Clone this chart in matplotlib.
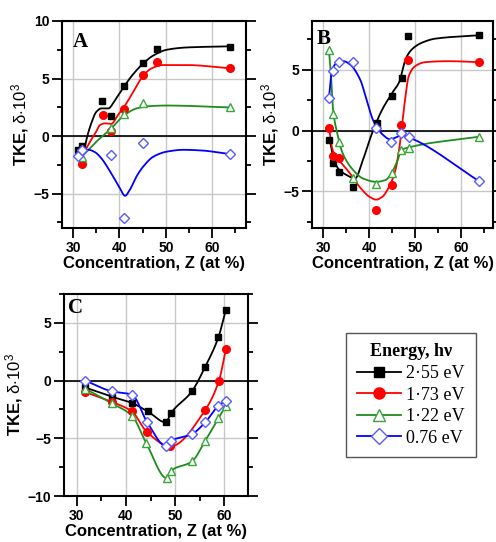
import numpy as np
import matplotlib
matplotlib.use("Agg")
import matplotlib.pyplot as plt
from matplotlib.lines import Line2D
from matplotlib.ticker import MultipleLocator

plt.rcParams["font.family"] = ["Liberation Sans", "DejaVu Sans"]
plt.rcParams["mathtext.fontset"] = "custom"
plt.rcParams["mathtext.rm"] = "Liberation Sans"
plt.rcParams["mathtext.it"] = "Liberation Sans:italic"

# ---- panel A: measured points ----
a_black_x = [31.0, 32.0, 36.3, 38.1, 41.0, 45.1, 48.0, 63.8]
a_black_y = [-1.2, -0.84, 3.04, 1.74, 4.35, 6.32, 7.57, 7.77]
a_red_x = [32.0, 36.4, 38.1, 41.0, 45.1, 48.0, 63.8]
a_red_y = [-2.46, 1.8, 0.43, 2.32, 5.3, 6.4, 5.88]
a_green_x = [32.0, 38.1, 41.0, 45.1, 63.8]
a_green_y = [-1.8, 0.72, 1.88, 2.9, 2.5]
a_blue_x = [31.1, 32.0, 38.1, 41.0, 45.1, 63.8]
a_blue_y = [-1.74, -1.2, -1.65, -7.16, -0.64, -1.57]

# panel A: fitted curves
a_fit_black_x = [32.2, 33.0, 34.0, 35.0, 36.1, 37.6, 39.0, 40.8, 43.0, 45.1, 47.3, 50.2, 54.5, 64.0]
a_fit_black_y = [-1.5, -0.1, 1.2, 2.1, 2.4, 2.4, 3.1, 4.2, 5.4, 6.3, 7.0, 7.5, 7.7, 7.8]
a_fit_red_x = [32.3, 33.5, 35.0, 35.8, 36.9, 38.2, 39.7, 41.1, 43.0, 44.7, 46.9, 49.4, 54.5, 64.0]
a_fit_red_y = [-1.5, -0.6, 0.4, 0.96, 1.1, 1.05, 1.83, 2.6, 3.85, 5.0, 5.88, 6.17, 6.17, 5.88]
a_fit_green_x = [32.1, 35.0, 38.2, 41.1, 43.7, 46.5, 50.2, 64.0]
a_fit_green_y = [-1.7, -0.5, 0.65, 1.83, 2.4, 2.6, 2.65, 2.48]
a_fit_blue_x = [31.4, 33.3, 34.7, 35.8, 38.6, 40.1, 41.2, 42.2, 43.7, 45.1, 47.3, 50.2, 53.8, 57.4, 63.8]
a_fit_blue_y = [-1.33, -1.2, -1.4, -1.8, -3.5, -4.55, -5.2, -4.7, -3.5, -2.67, -1.8, -1.36, -1.2, -1.25, -1.57]

# ---- panel B: measured points ----
b_black_x = [31.2, 32.0, 33.3, 36.4, 41.6, 45.0, 47.1, 48.4, 64.0]
b_black_y = [-0.77, -2.7, -3.39, -4.63, 0.66, 2.87, 4.33, 7.77, 7.83]
b_red_x = [31.2, 32.1, 33.5, 41.5, 45.0, 46.9, 48.4, 64.0]
b_red_y = [0.2, -2.09, -2.28, -6.5, -4.49, 0.47, 5.79, 5.62]
b_green_x = [31.2, 32.1, 33.5, 36.4, 41.5, 45.0, 47.0, 48.6, 64.0]
b_green_y = [6.61, 1.35, -0.91, -3.93, -4.35, -3.47, -1.6, -1.46, -0.5]
b_blue_x = [31.2, 32.0, 33.5, 36.4, 41.4, 44.8, 46.9, 48.6, 64.0]
b_blue_y = [2.68, 4.88, 5.62, 5.64, 0.25, -0.9, -0.22, -0.5, -4.16]

# panel B: fitted curves
b_fit_black_x = [31.4, 32.1, 33.2, 35.1, 36.9, 38.6, 40.6, 42.8, 45.0, 46.6, 47.2, 47.9, 49.3, 51.5, 54.4, 64.0]
b_fit_black_y = [-0.77, -2.15, -3.11, -3.66, -3.93, -2.42, -0.22, 1.71, 3.09, 4.05, 4.88, 5.84, 6.67, 7.22, 7.55, 7.83]
b_fit_red_x = [31.2, 31.9, 32.6, 34.0, 35.8, 37.9, 40.1, 41.5, 42.8, 44.3, 45.7, 46.6, 47.2, 47.9, 48.6, 50.0, 52.2, 57.2, 64.0]
b_fit_red_y = [0.2, -1.46, -2.1, -2.7, -3.52, -4.63, -5.45, -5.67, -5.45, -4.63, -3.25, -1.32, 0.61, 2.81, 4.46, 5.29, 5.62, 5.7, 5.62]
b_fit_green_x = [31.2, 31.6, 32.1, 33.0, 34.2, 36.5, 38.6, 41.5, 43.6, 45.0, 46.2, 47.0, 48.4, 64.0]
b_fit_green_y = [6.61, 4.74, 1.7, -0.22, -1.87, -3.25, -3.93, -4.21, -4.05, -3.39, -2.42, -1.62, -1.4, -0.5]
b_fit_blue_x = [31.2, 31.9, 33.0, 34.4, 35.8, 38.0, 39.4, 40.8, 41.6, 43.0, 44.5, 45.9, 47.0, 48.6, 64.0]
b_fit_blue_y = [2.68, 5.02, 5.57, 5.7, 5.43, 4.2, 2.54, 0.88, 0.33, -0.36, -0.71, -0.55, -0.36, -0.55, -4.16]

# ---- panel C: measured points (curves go through them) ----
c_black_x = [31.7, 37.1, 41.2, 44.4, 48.1, 49.1, 53.4, 56.1, 58.8, 60.3]
c_black_y = [-0.6, -1.39, -1.94, -2.67, -3.62, -2.84, -0.93, 1.2, 3.77, 6.15]
c_red_x = [31.7, 37.1, 41.2, 44.2, 49.0, 56.1, 58.9, 60.3]
c_red_y = [-1.0, -1.85, -2.67, -4.43, -5.7, -2.55, 0.0, 2.7]
c_green_x = [31.7, 37.1, 41.2, 44.1, 48.3, 49.1, 53.4, 56.1, 58.8, 60.3]
c_green_y = [-0.7, -1.97, -3.04, -5.4, -8.46, -7.83, -7.01, -5.22, -3.27, -2.17]
c_blue_x = [31.7, 37.1, 41.2, 44.3, 48.1, 49.1, 53.4, 56.1, 58.8, 60.3]
c_blue_y = [0.0, -0.93, -1.22, -3.6, -5.65, -5.22, -4.64, -3.62, -2.17, -1.74]

energy_labels = ["2\u00b755 eV", "1\u00b773 eV", "1\u00b722 eV", "0.76 eV"]

line_cols = ["black", "#ff0000", "#1e8c1e", "#0000ff"]
mk_edge = ["black", "#ff0000", "#3aa63a", "#5a5aff"]
mk_face = ["black", "#ff0000", "white", "white"]
markers = ["s", "o", "^", "D"]
msizes = [4.5, 5.5, 6.3, 5.3]


def pchip(x, y, n=300):
    # monotone cubic hermite, just for drawing a smooth line
    x = np.asarray(x, float)
    y = np.asarray(y, float)
    h = np.diff(x)
    d = np.diff(y) / h
    m = np.zeros_like(x)
    m[0], m[-1] = d[0], d[-1]
    for k in range(1, len(x) - 1):
        if d[k - 1] * d[k] > 0:
            w1 = 2 * h[k] + h[k - 1]
            w2 = h[k] + 2 * h[k - 1]
            m[k] = (w1 + w2) / (w1 / d[k - 1] + w2 / d[k])
    xs = np.linspace(x[0], x[-1], n)
    idx = np.clip(np.searchsorted(x, xs) - 1, 0, len(x) - 2)
    t = (xs - x[idx]) / h[idx]
    h00 = 2 * t**3 - 3 * t**2 + 1
    h10 = t**3 - 2 * t**2 + t
    h01 = -2 * t**3 + 3 * t**2
    h11 = t**3 - t**2
    ys = h00 * y[idx] + h10 * h[idx] * m[idx] + h01 * y[idx + 1] + h11 * h[idx] * m[idx + 1]
    return xs, ys


def style_axes(ax, xlim, ylim, letter, lx, ly):
    ax.set_xlim(*xlim)
    ax.set_ylim(*ylim)
    ax.xaxis.set_major_locator(MultipleLocator(10))
    ax.xaxis.set_minor_locator(MultipleLocator(5))
    ax.yaxis.set_major_locator(MultipleLocator(5))
    ax.yaxis.set_minor_locator(MultipleLocator(2.5))
    ax.grid(True, which="major", color="#c8c8c8", lw=1.0, zorder=0)
    ax.set_axisbelow(True)
    ax.axhline(0, color="black", lw=1.2, zorder=1)
    ax.tick_params(which="both", direction="out", width=1.3, top=False)
    ax.tick_params(which="major", length=7, pad=2, labelsize=10)
    ax.tick_params(which="minor", length=3.5)
    ax.tick_params(axis="y", which="both", right=True)
    for lab in ax.get_xticklabels() + ax.get_yticklabels():
        lab.set_fontweight("bold")
    for s in ax.spines.values():
        s.set_linewidth(1.5)
    ax.set_xlabel("Concentration, Z (at %)", fontsize=12, fontweight="bold", labelpad=1)
    ax.set_ylabel(r"TKE, $\mathrm{\delta{\cdot}10^{3}}$", fontsize=12, fontweight="bold", labelpad=2)
    ax.text(lx, ly, letter, transform=ax.transAxes, ha="left", va="top",
            fontsize=15, fontweight="bold", family="Liberation Serif")


def draw_points(ax, xs, ys):
    for i in range(4):
        ax.plot(xs[i], ys[i], ls="none", marker=markers[i], ms=msizes[i],
                mfc=mk_face[i], mec=mk_edge[i], mew=1.0, zorder=4)


W, H = 496, 542
fig = plt.figure(figsize=(W / 100, H / 100), dpi=100)

axA = fig.add_axes([62 / W, 1 - 228 / H, 184 / W, 207 / H])
axB = fig.add_axes([312 / W, 1 - 228 / H, 181 / W, 207 / H])
axC = fig.add_axes([64 / W, 1 - 496 / H, 184 / W, 202 / H])

# A
a_fits = [(a_fit_black_x, a_fit_black_y), (a_fit_red_x, a_fit_red_y),
          (a_fit_green_x, a_fit_green_y), (a_fit_blue_x, a_fit_blue_y)]
for i, (fx, fy) in enumerate(a_fits):
    sx, sy = pchip(fx, fy)
    axA.plot(sx, sy, color=line_cols[i], lw=1.3, zorder=3)
draw_points(axA, [a_black_x, a_red_x, a_green_x, a_blue_x],
            [a_black_y, a_red_y, a_green_y, a_blue_y])
style_axes(axA, (27.6, 67.3), (-8, 10), "A", 0.058, 0.945)

# B
b_fits = [(b_fit_black_x, b_fit_black_y), (b_fit_red_x, b_fit_red_y),
          (b_fit_green_x, b_fit_green_y), (b_fit_blue_x, b_fit_blue_y)]
for i, (fx, fy) in enumerate(b_fits):
    sx, sy = pchip(fx, fy)
    axB.plot(sx, sy, color=line_cols[i], lw=1.3, zorder=3)
draw_points(axB, [b_black_x, b_red_x, b_green_x, b_blue_x],
            [b_black_y, b_red_y, b_green_y, b_blue_y])
style_axes(axB, (27.5, 67.0), (-8, 9), "B", 0.027, 0.96)

# C
c_xs = [c_black_x, c_red_x, c_green_x, c_blue_x]
c_ys = [c_black_y, c_red_y, c_green_y, c_blue_y]
for i in range(4):
    sx, sy = pchip(c_xs[i], c_ys[i])
    axC.plot(sx, sy, color=line_cols[i], lw=1.3, zorder=3)
draw_points(axC, c_xs, c_ys)
style_axes(axC, (27.4, 64.8), (-10, 7.5), "C", 0.022, 0.98)

handles = [Line2D([], [], color=line_cols[i], lw=1.3, marker=markers[i], ms=msizes[i] + 2.5,
                  mfc=mk_face[i], mec=mk_edge[i], mew=1.0) for i in range(4)]
leg = fig.legend(handles, energy_labels, title="Energy, h\u03bd", loc="center",
                 bbox_to_anchor=(411 / W, 1 - 395 / H),
                 prop={"family": "Liberation Serif", "size": 13},
                 title_fontproperties={"family": "Liberation Serif", "weight": "bold", "size": 13},
                 frameon=True, fancybox=False, edgecolor="#555555", framealpha=1,
                 handlelength=2.4, handletextpad=0.3, labelspacing=0.25, borderpad=0.6)
leg.get_frame().set_linewidth(1.0)

fig.savefig("out.png", dpi=100)
